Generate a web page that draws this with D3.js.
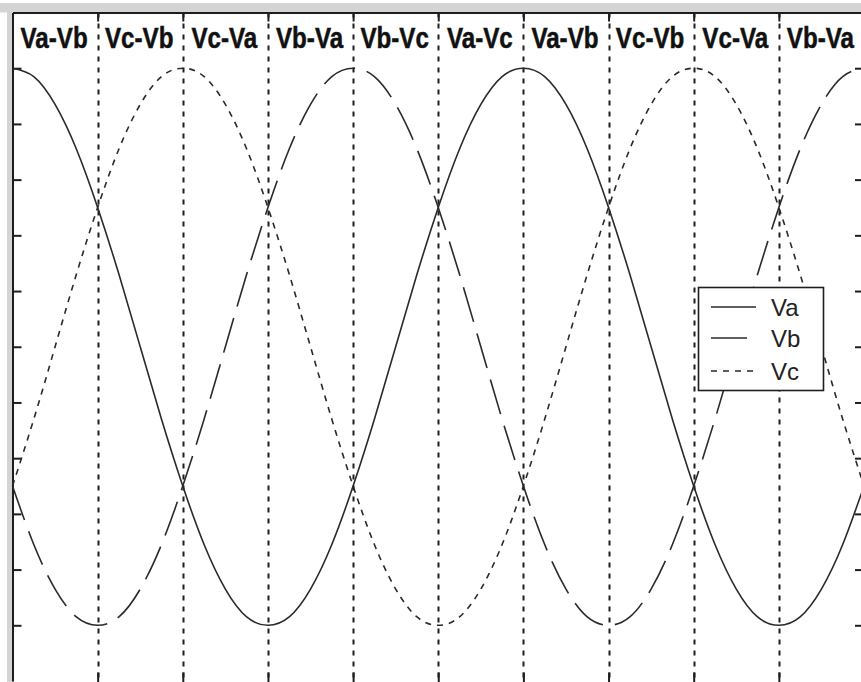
<!DOCTYPE html>
<html>
<head>
<meta charset="utf-8">
<script src="https://cdn.jsdelivr.net/npm/d3@7"></script>
<style>
  html, body { margin: 0; padding: 0; background: #fff; }
  svg { display: block; }
</style>
</head>
<body>
<svg id="chart" width="861" height="682"></svg>
<script>
// Electrical angle (degrees) of each sample
const angles = [0, 15, 30, 45, 60, 75, 90, 105, 120, 135, 150, 165, 180, 195, 210, 225,
  240, 255, 270, 285, 300, 315, 330, 345, 360, 375, 390, 405, 420, 435, 450, 465,
  480, 495, 510, 525, 540, 555, 570, 585, 600];

// Per-unit phase voltages
const va = [1, 0.97, 0.87, 0.71, 0.5, 0.26, 0, -0.26, -0.5, -0.71, -0.87, -0.97, -1, -0.97,
  -0.87, -0.71, -0.5, -0.26, 0, 0.26, 0.5, 0.71, 0.87, 0.97, 1, 0.97, 0.87, 0.71, 0.5, 0.26,
  0, -0.26, -0.5, -0.71, -0.87, -0.97, -1, -0.97, -0.87, -0.71, -0.5];
const vb = [-0.5, -0.71, -0.87, -0.97, -1, -0.97, -0.87, -0.71, -0.5, -0.26, 0, 0.26, 0.5,
  0.71, 0.87, 0.97, 1, 0.97, 0.87, 0.71, 0.5, 0.26, 0, -0.26, -0.5, -0.71, -0.87, -0.97, -1,
  -0.97, -0.87, -0.71, -0.5, -0.26, 0, 0.26, 0.5, 0.71, 0.87, 0.97, 1];
const vc = [-0.5, -0.26, 0, 0.26, 0.5, 0.71, 0.87, 0.97, 1, 0.97, 0.87, 0.71, 0.5, 0.26, 0,
  -0.26, -0.5, -0.71, -0.87, -0.97, -1, -0.97, -0.87, -0.71, -0.5, -0.26, 0, 0.26, 0.5, 0.71,
  0.87, 0.97, 1, 0.97, 0.87, 0.71, 0.5, 0.26, 0, -0.26, -0.5];

// Commutation boundaries and the conducting line-to-line pair in each 60° sector
const boundaries = [60, 120, 180, 240, 300, 360, 420, 480, 540];
const sectorStarts = [0, 60, 120, 180, 240, 300, 360, 420, 480, 540];
const sectorLabels = ["Va-Vb", "Vc-Vb", "Vc-Va", "Vb-Va", "Vb-Vc", "Va-Vc",
  "Va-Vb", "Vc-Vb", "Vc-Va", "Vb-Va"];

const yTicks = [-1, -0.8, -0.6, -0.4, -0.2, 0, 0.2, 0.4, 0.6, 0.8, 1];
const seriesNames = ["Va", "Vb", "Vc"];

const svg = d3.select("#chart");
const W = 861, H = 682;
const plotLeft = 12.5, plotTop = 12.5, plotRight = 864, plotBottom = 681;

const x = d3.scaleLinear().domain([0, 600]).range([plotLeft, plotRight]);
const y = d3.scaleLinear().domain([-1.2, 1.2]).range([plotBottom, plotTop]);

const ink = "#1e1e1e";

// Window frame
svg.append("rect").attr("x", 0).attr("y", 3).attr("width", W).attr("height", 9.5).attr("fill", "#d4d4d4");
svg.append("rect").attr("x", 7).attr("y", 3).attr("width", 5.5).attr("height", H).attr("fill", "#d4d4d4");

// Sector boundaries
svg.append("g").selectAll("line").data(boundaries).join("line")
  .attr("x1", d => Math.round(x(d)) + 0.5).attr("x2", d => Math.round(x(d)) + 0.5)
  .attr("y1", plotTop).attr("y2", H)
  .attr("stroke", ink).attr("stroke-width", 2)
  .attr("stroke-dasharray", "5,6");

// Axes with inward ticks
function styleAxis(g) {
  g.select(".domain").attr("stroke", ink).attr("stroke-width", 2);
  g.selectAll(".tick line").attr("stroke", ink).attr("stroke-width", 2);
  g.selectAll(".tick text").remove();
}
svg.append("g").attr("transform", `translate(${plotLeft},0)`)
  .call(d3.axisLeft(y).tickValues(yTicks).tickSize(-9).tickSizeOuter(0).tickFormat(""))
  .call(styleAxis);
svg.append("g").attr("transform", `translate(${plotRight},0)`)
  .call(d3.axisRight(y).tickValues(yTicks).tickSize(-9).tickSizeOuter(0).tickFormat(""))
  .call(styleAxis);
svg.append("g").attr("transform", `translate(0,${plotTop})`)
  .call(d3.axisTop(x).tickValues(boundaries).tickSize(-9).tickSizeOuter(0).tickFormat(""))
  .call(styleAxis);
// bottom edge of the axes box sits just below the visible window
svg.append("g").attr("transform", `translate(0,${H + 1.5})`)
  .call(d3.axisBottom(x).tickValues(boundaries).tickSize(-11).tickSizeOuter(0).tickFormat(""))
  .call(styleAxis);

// Phase voltage curves
const line = d3.line()
  .x((d, i) => x(angles[i]))
  .y(d => y(d))
  .curve(d3.curveNatural);

const styles = {
  Va: { dash: null },
  Vb: { dash: "36,12" },
  Vc: { dash: "6,6" }
};
const seriesData = { Va: va, Vb: vb, Vc: vc };

const plot = svg.append("g");
seriesNames.forEach(name => {
  plot.append("path")
    .datum(seriesData[name])
    .attr("d", line)
    .attr("fill", "none")
    .attr("stroke", "#2a2a2a")
    .attr("stroke-width", 1.6)
    .attr("stroke-dasharray", styles[name].dash);
});

// Sector labels
svg.append("g").selectAll("text").data(sectorLabels).join("text")
  .attr("transform", (d, i) => `translate(${x(sectorStarts[i] + 30) - 1},48) scale(0.82,1)`)
  .attr("text-anchor", "middle")
  .attr("font-family", "'Liberation Sans', Arial, sans-serif")
  .attr("font-weight", "bold")
  .attr("font-size", 29.5)
  .attr("fill", "#111")
  .attr("stroke", "#111")
  .attr("stroke-width", 0.5)
  .text(d => d);

// Legend
const legend = svg.append("g");
legend.append("rect")
  .attr("x", 698.5).attr("y", 287.5).attr("width", 125).attr("height", 103)
  .attr("fill", "#fff").attr("stroke", ink).attr("stroke-width", 1.6);
const rowY = [307, 338, 371];
seriesNames.forEach((name, i) => {
  legend.append("line")
    .attr("x1", 711).attr("x2", 756).attr("y1", rowY[i]).attr("y2", rowY[i])
    .attr("stroke", "#2a2a2a").attr("stroke-width", 1.6)
    .attr("stroke-dasharray", styles[name].dash);
  legend.append("text")
    .attr("x", 771).attr("y", rowY[i] + 8.5)
    .attr("font-family", "'Liberation Sans', Arial, sans-serif")
    .attr("font-size", 24)
    .attr("fill", "#222")
    .text(name);
});
</script>
</body>
</html>
